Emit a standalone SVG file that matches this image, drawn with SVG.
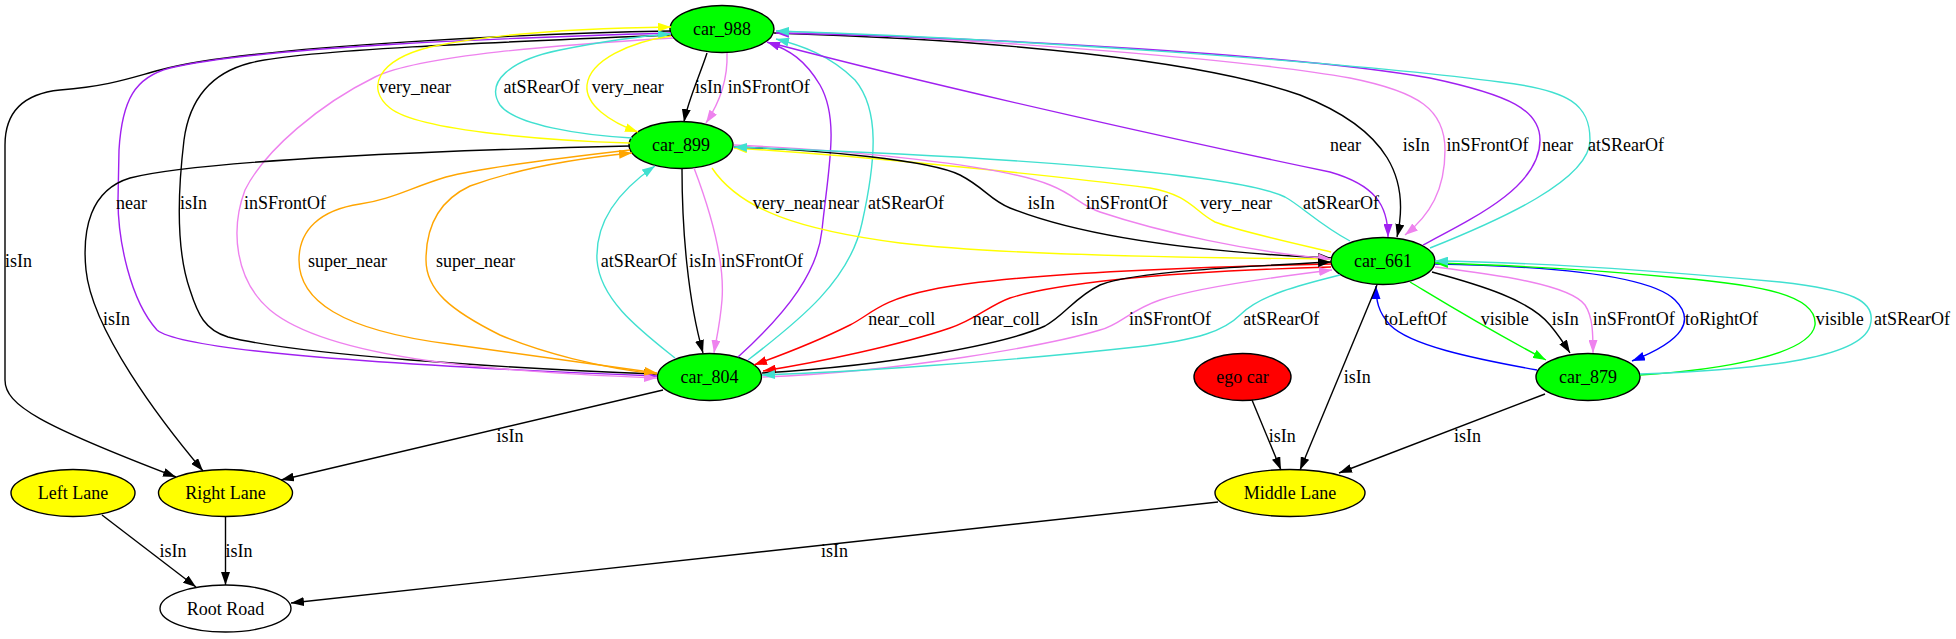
<svg xmlns="http://www.w3.org/2000/svg" width="1956" height="639" viewBox="0 0 1956 639">
<style>
.e{fill:none;stroke-width:1.4}
.k{stroke:#000}.v{stroke:#ee82ee}.p{stroke:#a020f0}.y{stroke:#ffff00}.t{stroke:#40e0d0}.o{stroke:#ffa500}.r{stroke:#ff0000}.g{stroke:#00ff00}.b{stroke:#0000ff}
.n{stroke:#000;stroke-width:1.4}
text{font-family:"Liberation Serif","Times New Roman",serif;font-size:18px;fill:#000}
.c{text-anchor:middle}
</style>
<defs>
<marker id="ak" viewBox="0 0 13 9" refX="13" refY="4.5" markerWidth="13" markerHeight="9" markerUnits="userSpaceOnUse" orient="auto"><path d="M0,0L13,4.5L0,9z" fill="#000"/></marker>
<marker id="av" viewBox="0 0 13 9" refX="13" refY="4.5" markerWidth="13" markerHeight="9" markerUnits="userSpaceOnUse" orient="auto"><path d="M0,0L13,4.5L0,9z" fill="#ee82ee"/></marker>
<marker id="ap" viewBox="0 0 13 9" refX="13" refY="4.5" markerWidth="13" markerHeight="9" markerUnits="userSpaceOnUse" orient="auto"><path d="M0,0L13,4.5L0,9z" fill="#a020f0"/></marker>
<marker id="ay" viewBox="0 0 13 9" refX="13" refY="4.5" markerWidth="13" markerHeight="9" markerUnits="userSpaceOnUse" orient="auto"><path d="M0,0L13,4.5L0,9z" fill="#ffff00"/></marker>
<marker id="at" viewBox="0 0 13 9" refX="13" refY="4.5" markerWidth="13" markerHeight="9" markerUnits="userSpaceOnUse" orient="auto"><path d="M0,0L13,4.5L0,9z" fill="#40e0d0"/></marker>
<marker id="ao" viewBox="0 0 13 9" refX="13" refY="4.5" markerWidth="13" markerHeight="9" markerUnits="userSpaceOnUse" orient="auto"><path d="M0,0L13,4.5L0,9z" fill="#ffa500"/></marker>
<marker id="ar" viewBox="0 0 13 9" refX="13" refY="4.5" markerWidth="13" markerHeight="9" markerUnits="userSpaceOnUse" orient="auto"><path d="M0,0L13,4.5L0,9z" fill="#ff0000"/></marker>
<marker id="ag" viewBox="0 0 13 9" refX="13" refY="4.5" markerWidth="13" markerHeight="9" markerUnits="userSpaceOnUse" orient="auto"><path d="M0,0L13,4.5L0,9z" fill="#00ff00"/></marker>
<marker id="ab" viewBox="0 0 13 9" refX="13" refY="4.5" markerWidth="13" markerHeight="9" markerUnits="userSpaceOnUse" orient="auto"><path d="M0,0L13,4.5L0,9z" fill="#0000ff"/></marker>
</defs>
<rect width="1956" height="639" fill="#fff"/>

<g id="nodes">
<g id="car_988"><ellipse class="n" cx="722" cy="29" rx="52" ry="23.5" fill="#00ff00"/><text class="c" x="722" y="35">car_988</text></g>
<g id="car_899"><ellipse class="n" cx="681" cy="145" rx="52" ry="23.5" fill="#00ff00"/><text class="c" x="681" y="151">car_899</text></g>
<g id="car_661"><ellipse class="n" cx="1383" cy="261" rx="52" ry="23.5" fill="#00ff00"/><text class="c" x="1383" y="267">car_661</text></g>
<g id="car_804"><ellipse class="n" cx="709.5" cy="377" rx="52" ry="23.5" fill="#00ff00"/><text class="c" x="709.5" y="383">car_804</text></g>
<g id="ego_car"><ellipse class="n" cx="1242.5" cy="377" rx="48.5" ry="23.5" fill="#ff0000"/><text class="c" x="1242.5" y="383">ego car</text></g>
<g id="car_879"><ellipse class="n" cx="1588" cy="377" rx="52" ry="23.5" fill="#00ff00"/><text class="c" x="1588" y="383">car_879</text></g>
<g id="left_lane"><ellipse class="n" cx="73" cy="493" rx="62" ry="23.5" fill="#ffff00"/><text class="c" x="73" y="499">Left Lane</text></g>
<g id="right_lane"><ellipse class="n" cx="225.5" cy="493" rx="67" ry="23.5" fill="#ffff00"/><text class="c" x="225.5" y="499">Right Lane</text></g>
<g id="middle_lane"><ellipse class="n" cx="1290" cy="493" rx="75" ry="23.5" fill="#ffff00"/><text class="c" x="1290" y="499">Middle Lane</text></g>
<g id="root_road"><ellipse class="n" cx="225.5" cy="608.5" rx="65.5" ry="23.5" fill="#fff"/><text class="c" x="225.5" y="614.5">Root Road</text></g>
</g>

<g id="connectors">
<path class="e k" marker-end="url(#ak)" d="M671,31 C560,33 250,45 160,70 C130,78 110,86 60,90 C20,94 5,115 5,145 L5,380 C5,405 40,425 176,477"/>
<path class="e k" marker-end="url(#ak)" d="M672,35 C500,42 300,50 250,63 C215,72 190,95 184,140 C178,190 176,250 190,290 C198,315 205,330 228,337 C300,355 500,368 657,374"/>
<path class="e p" marker-end="url(#ap)" d="M671,33 C500,38 260,47 170,68 C135,77 122,100 119,150 L118,200 C118,240 130,300 157,330 C175,345 300,362 657,376"/>
<path class="e v" marker-end="url(#av)" d="M673,38 C560,45 420,55 375,77 C320,104 265,150 245,190 C230,230 235,280 270,310 C330,360 500,372 657,378"/>
<path class="e y" marker-end="url(#ay)" d="M630,143 C560,141 420,132 390,108 C365,88 378,60 430,47 C500,32 600,28 671,27"/>
<path class="e t" marker-end="url(#at)" d="M632,138 C580,135 515,125 500,105 C485,82 510,60 560,50 C600,42 640,36 671,34"/>
<path class="e y" marker-end="url(#ay)" d="M671,36 C630,42 590,60 587,85 C585,105 610,122 638,132"/>
<path class="e k" marker-end="url(#ak)" d="M707,53 C700,75 688,100 684,122"/>
<path class="e v" marker-end="url(#av)" d="M727,53 C728,80 718,105 706,123"/>
<path class="e k" marker-end="url(#ak)" d="M630,146 C450,150 200,160 130,178 C90,190 82,230 86,270 C92,330 160,420 203,471"/>
<path class="e o" marker-end="url(#ao)" d="M630,150 C560,158 480,168 446,177 C410,188 390,200 360,204 C320,210 299,230 299,260 C299,300 340,330 449,344 C530,355 600,365 657,373"/>
<path class="e o" marker-end="url(#ao)" d="M657,374 C600,368 540,352 500,335 C450,310 426,290 426,260 C426,225 440,200 470,186 C520,168 580,158 632,153"/>
<path class="e t" marker-end="url(#at)" d="M675,358 C640,330 600,300 597,260 C595,220 620,190 655,166"/>
<path class="e k" marker-end="url(#ak)" d="M682,169 C682,230 688,300 703,353"/>
<path class="e v" marker-end="url(#av)" d="M694,168 C710,210 725,260 722,300 C720,325 716,340 714,353"/>
<path class="e p" marker-end="url(#ap)" d="M738,357 C790,310 818,270 822,230 C828,170 840,120 820,85 C805,60 790,50 767,42"/>
<path class="e t" marker-end="url(#at)" d="M748,360 C800,320 850,280 862,223 C876,160 880,110 855,80 C830,55 800,45 776,39"/>
<path class="e y" marker-end="url(#ay)" d="M712,168 C740,210 800,230 900,243 C1000,255 1200,258 1331,259"/>
<path class="e y" marker-end="url(#ay)" d="M1331,252 C1280,240 1235,230 1215,222 C1195,212 1190,195 1150,188 C1050,175 850,155 734,148"/>
<path class="e k" marker-end="url(#ak)" d="M734,147 C820,150 930,160 960,175 C985,188 990,200 1010,208 C1060,228 1150,250 1331,258"/>
<path class="e v" marker-end="url(#av)" d="M734,145 C850,150 1000,165 1050,185 C1075,195 1080,205 1100,212 C1160,232 1250,252 1331,259"/>
<path class="e t" marker-end="url(#at)" d="M1350,241 C1320,225 1300,205 1285,197 C1250,180 1100,160 734,147"/>
<path class="e p" marker-end="url(#ap)" d="M775,44 C950,90 1200,145 1330,172 C1375,185 1388,205 1388,237"/>
<path class="e k" marker-end="url(#ak)" d="M774,33 C1000,40 1200,60 1300,95 C1390,130 1410,180 1397,237"/>
<path class="e v" marker-end="url(#av)" d="M776,31 C1000,40 1250,60 1350,78 C1420,92 1445,110 1445,150 C1445,190 1430,215 1405,235"/>
<path class="e p" marker-end="url(#ap)" d="M1423,245 C1480,215 1540,185 1540,140 C1540,110 1510,95 1430,78 C1300,55 1000,38 776,33"/>
<path class="e t" marker-end="url(#at)" d="M1430,248 C1500,220 1590,180 1590,140 C1590,105 1570,90 1500,82 C1350,62 1000,38 776,31"/>
<path class="e r" marker-end="url(#ar)" d="M1331,264 C1150,268 1000,275 930,290 C880,300 870,315 850,325 C820,340 790,352 754,365"/>
<path class="e r" marker-end="url(#ar)" d="M1331,267 C1150,272 1050,285 1010,298 C990,305 975,320 950,328 C900,345 820,362 763,371"/>
<path class="e k" marker-end="url(#ak)" d="M762,373 C900,365 1010,342 1045,326 C1065,315 1075,297 1100,285 C1130,272 1250,266 1331,262"/>
<path class="e v" marker-end="url(#av)" d="M763,377 C900,372 1050,345 1100,330 C1120,325 1130,310 1160,300 C1190,290 1250,280 1332,270"/>
<path class="e t" marker-end="url(#at)" d="M1340,275 C1300,285 1260,295 1240,315 C1225,330 1200,340 1136,347 C1000,362 850,372 762,375"/>
<path class="e b" marker-end="url(#ab)" d="M1537,370 C1470,358 1410,345 1390,325 C1378,312 1376,300 1376,286"/>
<path class="e g" marker-end="url(#ag)" d="M1410,282 C1440,300 1480,325 1546,360"/>
<path class="e k" marker-end="url(#ak)" d="M1432,272 C1480,285 1530,300 1550,325 C1560,337 1565,345 1570,353"/>
<path class="e v" marker-end="url(#av)" d="M1435,267 C1500,275 1570,285 1585,305 C1593,317 1593,335 1593,353"/>
<path class="e b" marker-end="url(#ab)" d="M1435,264 C1550,266 1650,275 1675,300 C1695,320 1685,340 1632,361"/>
<path class="e g" marker-end="url(#ag)" d="M1640,375 C1720,370 1810,355 1815,325 C1818,295 1760,285 1680,278 C1600,270 1500,265 1435,263"/>
<path class="e t" marker-end="url(#at)" d="M1640,374 C1750,370 1860,360 1870,326 C1878,300 1850,290 1780,282 C1650,270 1520,262 1435,261"/>
<path class="e k" marker-end="url(#ak)" d="M1377,285 L1300,470"/>
<path class="e k" marker-end="url(#ak)" d="M1252,400 L1281,470"/>
<path class="e k" marker-end="url(#ak)" d="M1545,394 L1339,473"/>
<path class="e k" marker-end="url(#ak)" d="M663,390 L281,480"/>
<path class="e k" marker-end="url(#ak)" d="M102,515 L196,587"/>
<path class="e k" marker-end="url(#ak)" d="M225.5,516.5 L225.5,585"/>
<path class="e k" marker-end="url(#ak)" d="M1218,502 L291,603"/>
</g>

<g id="edge-labels">
<text x="5" y="266.5">isIn</text>
<text x="180" y="209">isIn</text>
<text x="116" y="209">near</text>
<text x="244" y="209">inSFrontOf</text>
<text x="379" y="93">very_near</text>
<text x="503.6" y="93">atSRearOf</text>
<text x="591.7" y="93">very_near</text>
<text x="695" y="93">isIn</text>
<text x="727.7" y="93">inSFrontOf</text>
<text x="103" y="324.5">isIn</text>
<text x="308" y="266.5">super_near</text>
<text x="436" y="266.5">super_near</text>
<text x="600.7" y="266.5">atSRearOf</text>
<text x="689" y="266.5">isIn</text>
<text x="721" y="266.5">inSFrontOf</text>
<text x="828" y="209">near</text>
<text x="868" y="209">atSRearOf</text>
<text x="752.7" y="209">very_near</text>
<text x="1200" y="209">very_near</text>
<text x="1027.7" y="209">isIn</text>
<text x="1085.7" y="209">inSFrontOf</text>
<text x="1303" y="209">atSRearOf</text>
<text x="1330" y="150.5">near</text>
<text x="1402.7" y="150.5">isIn</text>
<text x="1446.4" y="150.5">inSFrontOf</text>
<text x="1542" y="150.5">near</text>
<text x="1588" y="150.5">atSRearOf</text>
<text x="868.3" y="324.5">near_coll</text>
<text x="972.8" y="324.5">near_coll</text>
<text x="1071" y="324.5">isIn</text>
<text x="1129" y="324.5">inSFrontOf</text>
<text x="1243.3" y="324.5">atSRearOf</text>
<text x="1384" y="324.5">toLeftOf</text>
<text x="1480.7" y="324.5">visible</text>
<text x="1551.7" y="324.5">isIn</text>
<text x="1592.7" y="324.5">inSFrontOf</text>
<text x="1685" y="324.5">toRightOf</text>
<text x="1815.7" y="324.5">visible</text>
<text x="1874" y="324.5">atSRearOf</text>
<text x="1343.75" y="383">isIn</text>
<text x="1268.75" y="441.5">isIn</text>
<text x="1454" y="441.5">isIn</text>
<text x="496.4" y="441.5">isIn</text>
<text x="159.4" y="556.5">isIn</text>
<text x="225.4" y="556.5">isIn</text>
<text x="821" y="556.5">isIn</text>
</g>
</svg>
